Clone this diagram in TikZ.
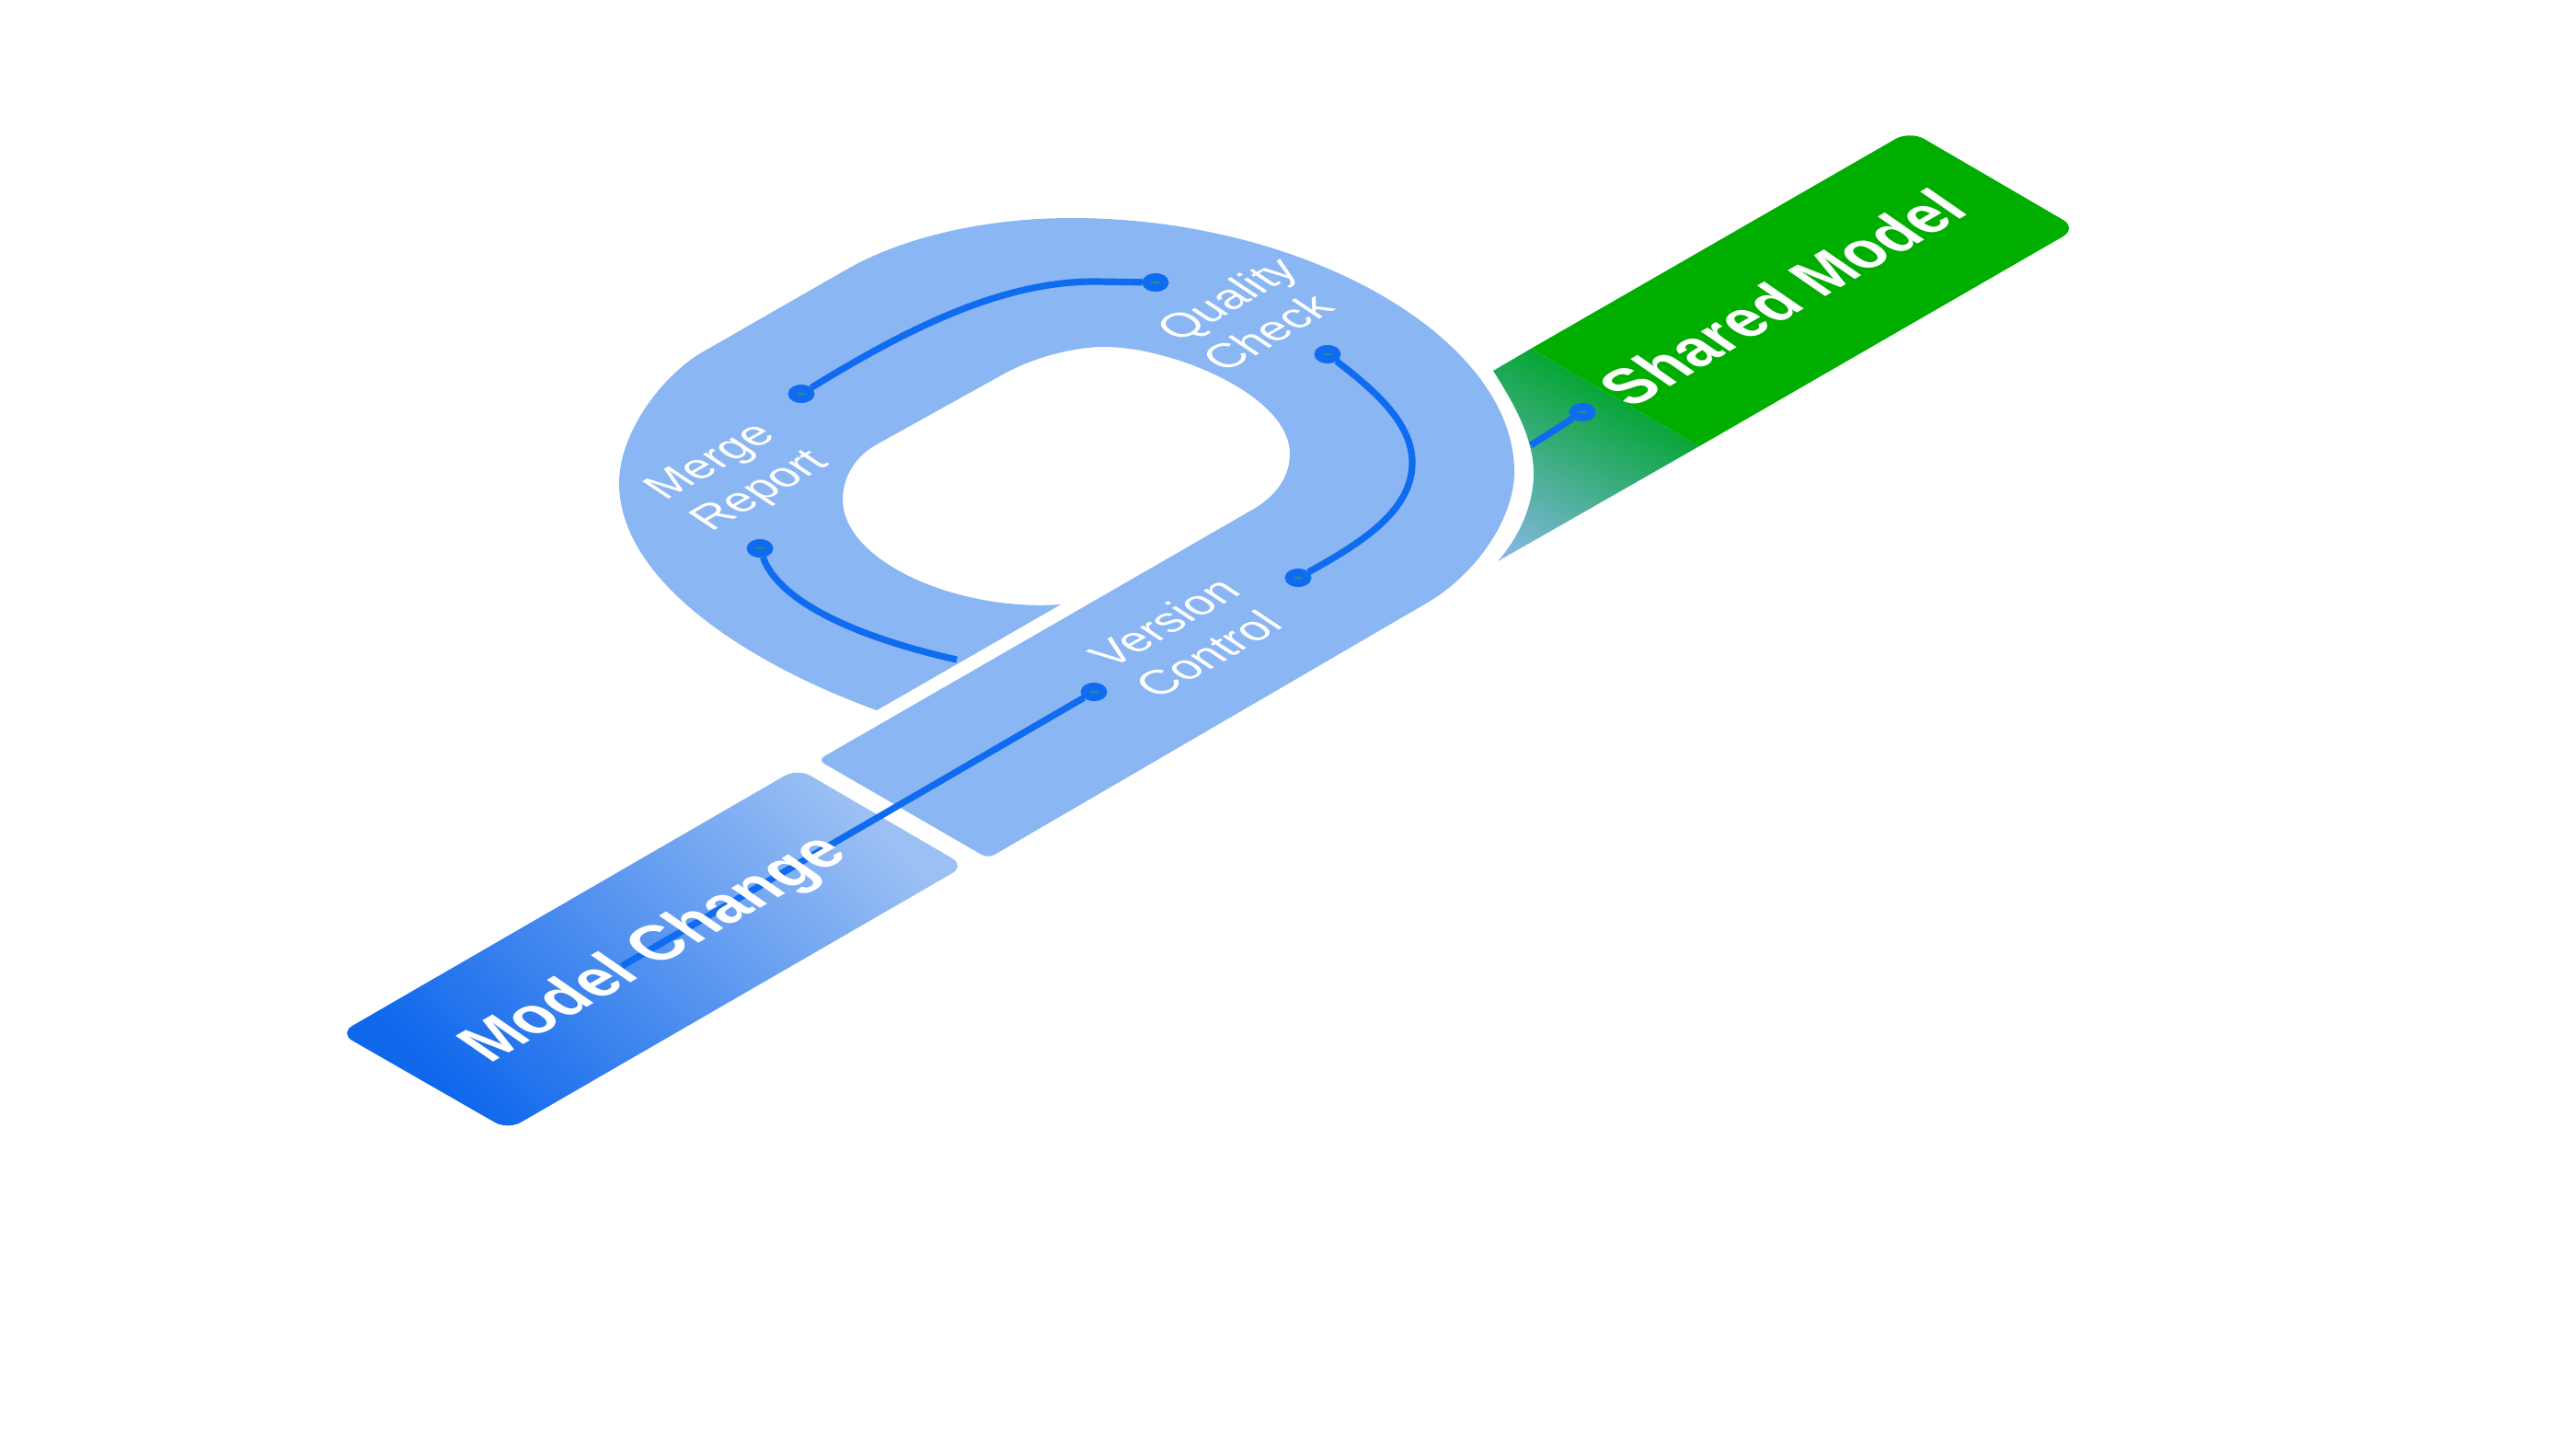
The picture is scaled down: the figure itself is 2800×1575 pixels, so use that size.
\documentclass[tikz,border=0pt]{standalone}
\usepackage{fontspec}
\setmainfont{Liberation Sans}
\usetikzlibrary{shapes.geometric}
\definecolor{loopblue}{HTML}{8AB6F3}
\definecolor{lineblue}{HTML}{0F6BF0}
\definecolor{modeldark}{HTML}{0F67EC}
\definecolor{modellight}{HTML}{9CC0F4}
\definecolor{sharedgreen}{HTML}{00AE00}
\definecolor{fadegreen}{HTML}{08A638}
\definecolor{fadeblue}{HTML}{8AB8EC}
\definecolor{dotcore}{HTML}{2A8F85}
\pgfdeclareverticalshading{greenfade}{100bp}{color(0bp)=(fadeblue); color(16.5bp)=(fadeblue); color(64bp)=(fadegreen); color(100bp)=(fadegreen)}
\tikzset{
  steplabel/.style={cm={0.87,0.5,-0.84,0.56,(0,0)},text=white,inner sep=0pt,align=left,font=\fontsize{14}{17}\selectfont},
  blocklabel/.style={cm={0.80,0.462,-0.84,0.58,(0,0)},text=white,inner sep=0pt,font=\fontsize{20}{24}\selectfont\bfseries},
  portdot/.style={ellipse,draw=lineblue,fill=dotcore,line width=0.085cm,inner sep=0pt,minimum width=0.2cm,minimum height=0.115cm},
  flow/.style={draw=lineblue,line width=0.072cm}
}
\begin{document}
\begin{tikzpicture}[x=0.01cm,y=-0.01cm]
  \useasboundingbox (0,0) rectangle (2800,1575);

  \fill[sharedgreen] (1847,485) -- (1664,379) [rounded corners=0.18cm] -- (2076,142) -- (2258,248) [sharp corners] -- cycle;
  \path[shade,shading=greenfade,shading angle=-29] (1664,379) -- (1847,485) -- (1628,610)
    .. controls (1650,585) and (1667,550) .. (1667,515)
    .. controls (1667,480) and (1650,445) .. (1623,403) -- cycle;

  \shade[bottom color=modeldark,top color=modellight,shading angle=-45,rounded corners=0.16cm]
    (369,1123) -- (867,835) -- (1049,941) -- (552,1228) -- cycle;

  \fill[loopblue,even odd rule] (1363,553) [rounded corners=0.08cm] -- (889,826) -- (1074,933) -- (1543,660) [sharp corners]
    .. controls (1605,624) and (1646,563) .. (1646,513)
    .. controls (1646,368) and (1420,237) .. (1165,237)
    .. controls (1070,237) and (981,258) .. (920,293)
    -- (763,383)
    .. controls (720,408) and (673,470) .. (673,525)
    .. controls (673,632) and (815,722) .. (953,772)
    -- (1153,657)
    .. controls (1040,665) and (916,610) .. (916,543)
    .. controls (916,515) and (933,494) .. (953,483)
    -- (1090,407)
    .. controls (1120,390) and (1165,377) .. (1200,377)
    .. controls (1275,377) and (1402,430) .. (1402,493)
    .. controls (1402,520) and (1385,540) .. (1363,553) -- cycle;

  \node[portdot] (versiondot) at (1189,752) {};
  \node[portdot] (controldot) at (1411,628) {};
  \node[portdot] (checkdot) at (1443,385) {};
  \node[portdot] (qualitydot) at (1256,307) {};
  \node[portdot] (mergedot) at (871,428) {};
  \node[portdot] (reportdot) at (826,596) {};
  \node[portdot] (shareddot) at (1720,448) {};

  \coordinate (modelstart) at (676,1050);
  \coordinate (loopexit) at (1040,717);
  \coordinate (ringend) at (1664,484);
  \coordinate (loopright) at (1535,503);
  \coordinate (loopflat) at (1190,306);

  \draw[flow] (versiondot) -- (modelstart);
  \draw[flow] (controldot) .. controls (1480,590) and (1535,555) .. (loopright)
    .. controls (1535,460) and (1495,425) .. (checkdot);
  \draw[flow] (qualitydot) -- (loopflat) .. controls (1090,306) and (990,355) .. (mergedot);
  \draw[flow] (reportdot) .. controls (845,650) and (920,690) .. (loopexit);
  \draw[flow] (shareddot) -- (ringend);

  \node[blocklabel,xscale=1.02] (modellabel) at (713,1033) {Model Change};
  \node[blocklabel] (sharedlabel) at (1937,323) {Shared Model};
  \node[steplabel] (versionlabel) at (1290,693) {Version\\Control};
  \node[steplabel] (qualitylabel) at (1358,341) {Quality\\Check};
  \node[steplabel] (mergelabel) at (803,518) {Merge\\Report};
\end{tikzpicture}
\end{document}
